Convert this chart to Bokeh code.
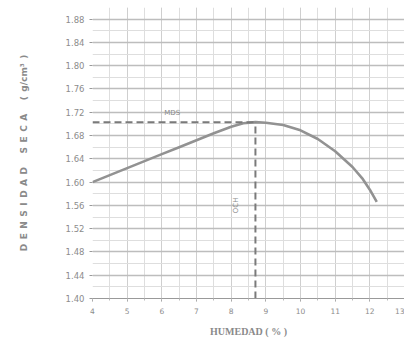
import numpy as np
from bokeh.plotting import figure
from bokeh.models import FixedTicker, PrintfTickFormatter, Range1d, Label
from bokeh.embed import file_html
from bokeh.resources import INLINE

# Data
humedad = [4.0, 4.5, 5.0, 5.5, 6.0, 6.5, 7.0, 7.5, 8.0, 8.35, 8.7, 9.0, 9.5,
           10.0, 10.5, 11.0, 11.5, 11.8, 12.0, 12.2]
densidad = [1.600, 1.612, 1.624, 1.636, 1.648, 1.660, 1.672, 1.684, 1.695, 1.701, 1.703,
            1.702, 1.698, 1.689, 1.674, 1.653, 1.626, 1.605, 1.587, 1.566]
och = 8.7
mds = 1.703
x_ticks = [4, 5, 6, 7, 8, 9, 10, 11, 12, 13]
x_minor = [4 + 0.5 * i for i in range(19)]
y_ticks = [1.40, 1.44, 1.48, 1.52, 1.56, 1.60, 1.64, 1.68, 1.72, 1.76, 1.80, 1.84, 1.88]
y_minor = [round(1.40 + 0.02 * i, 2) for i in range(26)]

GRAY = "#8a8a8a"
SP = "\u2002"

p = figure(width=404, height=342, output_backend="svg", toolbar_location=None,
           x_range=Range1d(4, 13), y_range=Range1d(1.40, 1.90),
           min_border_left=92, min_border_right=0, min_border_top=7, min_border_bottom=44)
p.outline_line_color = None
p.background_fill_color = "white"
p.border_fill_color = "white"

# axes
p.xaxis.ticker = FixedTicker(ticks=x_ticks, minor_ticks=x_minor)
p.yaxis.ticker = FixedTicker(ticks=y_ticks, minor_ticks=y_minor)
p.yaxis.formatter = PrintfTickFormatter(format="%.2f")
for ax in (p.xaxis[0], p.yaxis[0]):
    ax.major_label_text_font = "DejaVu Sans"
    ax.major_label_text_font_size = "7.5px"
    ax.major_label_text_color = "#8c8c8c"
    ax.axis_line_color = "#999999"
    ax.major_tick_line_color = "#999999"
    ax.minor_tick_line_color = "#bbbbbb"
    ax.major_tick_out = 3
    ax.major_tick_in = 0
    ax.minor_tick_out = 2
    ax.minor_tick_in = 0
    ax.axis_label_text_color = GRAY
    ax.axis_label_text_font_style = "bold"

p.yaxis.major_label_text_font_size = "8.5px"
p.yaxis.axis_line_color = None
p.yaxis.minor_tick_line_color = None
p.yaxis.major_label_standoff = 5
p.xaxis.major_label_standoff = 6

p.xaxis.axis_label = "HUMEDAD ( % )"
p.xaxis.axis_label_text_font = "Liberation Serif"
p.xaxis.axis_label_text_font_size = "10px"
p.xaxis.axis_label_standoff = 9

ylab = SP.join("DENSIDAD") + SP * 3 + SP.join("SECA") + SP * 3 + "(" + SP + "g/cm³" + SP + ")"
p.yaxis.axis_label = ylab
p.yaxis.axis_label_text_font = "DejaVu Sans"
p.yaxis.axis_label_text_font_size = "9px"
p.yaxis.axis_label_standoff = 34

# grids
p.xgrid.ticker = FixedTicker(ticks=x_ticks, minor_ticks=x_minor)
p.ygrid.ticker = FixedTicker(ticks=y_ticks, minor_ticks=y_minor)
p.xgrid.grid_line_color = "#cfcfcf"
p.xgrid.grid_line_width = 1
p.xgrid.minor_grid_line_color = "#dedede"
p.xgrid.minor_grid_line_width = 1
p.ygrid.grid_line_color = "#bdbdbd"
p.ygrid.grid_line_width = 1.5
p.ygrid.minor_grid_line_color = "#dedede"
p.ygrid.minor_grid_line_width = 1

# curve
p.line(humedad, densidad, line_color="#929292", line_width=2.6, line_join="round")

# dashed reference lines
p.line([humedad[0], och], [mds, mds], line_color="#7a7a7a", line_width=2, line_dash="7 4")
p.line([och, och], [1.40, mds], line_color="#7a7a7a", line_width=2, line_dash="7 4")

p.add_layout(Label(x=6.3, y=mds + 0.008, text="MDS", text_font="DejaVu Sans",
                   text_font_size="7px", text_color="#8a8a8a", text_align="center"))
p.add_layout(Label(x=8.15, y=1.56, text="OCH", text_font="DejaVu Sans", angle=np.pi / 2,
                   text_font_size="7px", text_color="#8a8a8a", text_align="center",
                   text_baseline="middle"))

open("out.html", "w").write(file_html(p, INLINE))
